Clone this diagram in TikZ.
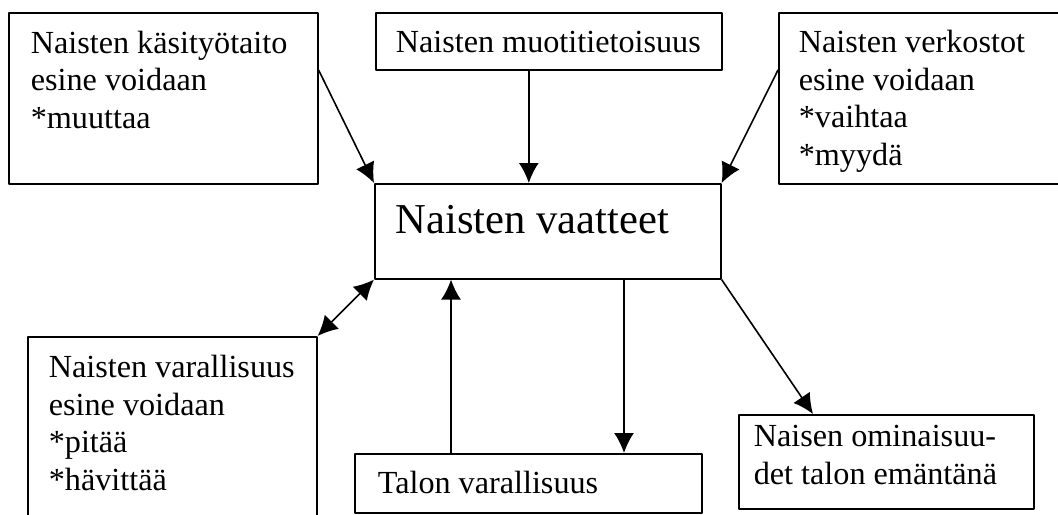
\documentclass[tikz,border=0pt]{standalone}
\usepackage{fontspec}
\setmainfont{Liberation Serif}
\usetikzlibrary{arrows.meta,positioning}
\tikzset{
  box/.style={draw,rectangle,inner sep=0pt,anchor=north west},
  boxtext/.style={anchor=base west,align=left,inner sep=0pt,
    font=\fontsize{16.1}{18.7}\selectfont},
}
\begin{document}
\begin{tikzpicture}[>={Latex[length=10pt,width=10pt]},line join=bevel,x=0.5pt,y=-0.5pt]
  \pgfsetlinewidth{0.8pt}
  \useasboundingbox (0,0) rectangle (1058,514);
%%
  % Node: Naisten vaatteet
  \node[box,minimum width=173pt,minimum height=47.5pt] (vaatteet) at (374,183) {};
  \node[boxtext,font=\fontsize{21.3}{24}\selectfont] at (395,233) {Naisten vaatteet};
  % Node: Naisten kasityotaito (base = last line)
  \node[box,minimum width=154.5pt,minimum height=85.5pt] (kasityo) at (8,12) {};
  \node[boxtext] at (30,128) {Naisten käsityötaito\\esine voidaan\\*muuttaa};
  % Node: Naisten muotitietoisuus
  \node[box,minimum width=173pt,minimum height=28.5pt] (muoti) at (375,12) {};
  \node[boxtext] at (395,52) {Naisten muotitietoisuus};
  % Node: Naisten verkostot
  \node[box,minimum width=146pt,minimum height=85.5pt] (verkostot) at (778,12) {};
  \node[boxtext] at (798,165) {Naisten verkostot\\esine voidaan\\*vaihtaa\\*myydä};
  % Node: Naisten varallisuus
  \node[box,minimum width=144.5pt,minimum height=102pt] (varallisuus) at (27,336) {};
  \node[boxtext] at (48,490) {Naisten varallisuus\\esine voidaan\\*pitää\\*hävittää};
  % Node: Talon varallisuus
  \node[box,minimum width=173.5pt,minimum height=29.5pt] (talo) at (354,453) {};
  \node[boxtext] at (377,493) {Talon varallisuus};
  % Node: Naisen ominaisuudet
  \node[box,minimum width=147.5pt,minimum height=47pt] (emanta) at (738,414) {};
  \node[boxtext] at (753,484) {Naisen ominaisuu-\\det talon emäntänä};
%
  % Edge: kasityo -> vaatteet
  \draw[->] ([yshift=-29pt]kasityo.north east) -- (vaatteet.north west);
  % Edge: muoti -> vaatteet
  \draw[->] ([xshift=-10pt]muoti.south) -- ([xshift=-10pt]muoti.south |- vaatteet.north);
  % Edge: verkostot -> vaatteet
  \draw[->] ([yshift=-29pt]verkostot.north west) -- (vaatteet.north east);
  % Edge: varallisuus <-> vaatteet
  \draw[<->] (varallisuus.north east) -- (vaatteet.south west);
  % Edge: talo -> vaatteet
  \draw[->] ([xshift=48.5pt]talo.north west) -- ([xshift=48.5pt]talo.north west |- vaatteet.south);
  % Edge: vaatteet -> talo
  \draw[->] ([xshift=135pt]talo.north west |- vaatteet.south) -- ([xshift=135pt]talo.north west);
  % Edge: vaatteet -> emanta
  \draw[->] (vaatteet.south east) -- ([xshift=37.5pt]emanta.north west);
%
\end{tikzpicture}
\end{document}
